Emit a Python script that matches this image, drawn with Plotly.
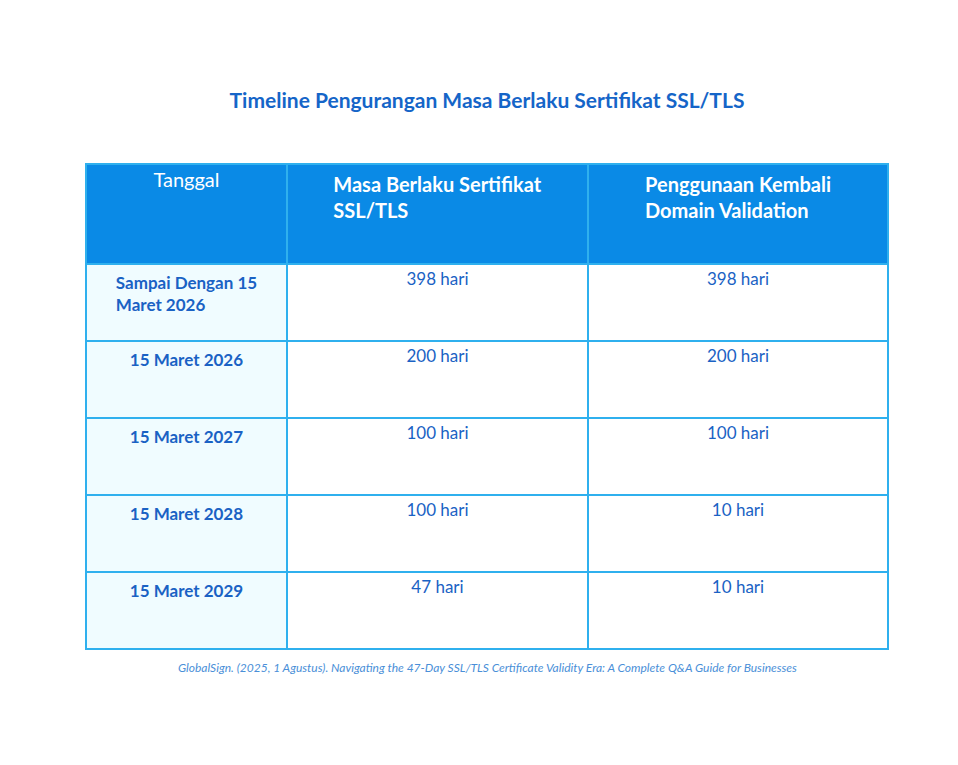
import plotly.graph_objects as go

title = "Timeline Pengurangan Masa Berlaku Sertifikat SSL/TLS"
headers = ["Tanggal", "<b>Masa Berlaku Sertifikat<br>SSL/TLS</b>", "<b>Penggunaan Kembali<br>Domain Validation</b>"]
dates = ["Sampai Dengan 15<br>Maret 2026", "15 Maret 2026", "15 Maret 2027", "15 Maret 2028", "15 Maret 2029"]
validity = ["398 hari", "200 hari", "100 hari", "100 hari", "47 hari"]
dv_reuse = ["398 hari", "200 hari", "100 hari", "10 hari", "10 hari"]
source = "GlobalSign. (2025, 1 Agustus). Navigating the 47-Day SSL/TLS Certificate Validity Era: A Complete Q&A Guide for Businesses"

W, H = 958, 765
TXT = "#1a62c4"
fig = go.Figure(go.Table(
    domain=dict(x=[78/W, 880/W], y=[0, 1-156/H]),
    columnwidth=[201, 301, 300],
    header=dict(values=headers, fill_color="#0a8ae6", line=dict(color="#2fb0ee", width=2),
                font=dict(family="Lato", size=20, color="white"), align="center", height=100),
    cells=dict(values=[["<b>%s</b>" % d for d in dates], validity, dv_reuse],
               fill_color=[["#f0fcff"]*5, ["white"]*5, ["white"]*5],
               line=dict(color="#2fb0ee", width=2),
               font=dict(family="Lato", size=17, color=TXT), align="center", height=77),
))
fig.update_layout(
    width=W, height=H, margin=dict(l=0, r=0, t=0, b=0), paper_bgcolor="white",
    title=dict(text="<b>%s</b>" % title, x=0.5, xanchor="center", y=1-93/H, yanchor="middle",
               font=dict(family="Lato", size=21, color="#1565c8")),
    annotations=[dict(text="<i>%s</i>" % source, x=0.5, y=1-669/H, xref="paper", yref="paper",
                      showarrow=False, font=dict(family="Lato", size=12, color="#4a8fd8"))],
)
fig.write_html("out.html")
